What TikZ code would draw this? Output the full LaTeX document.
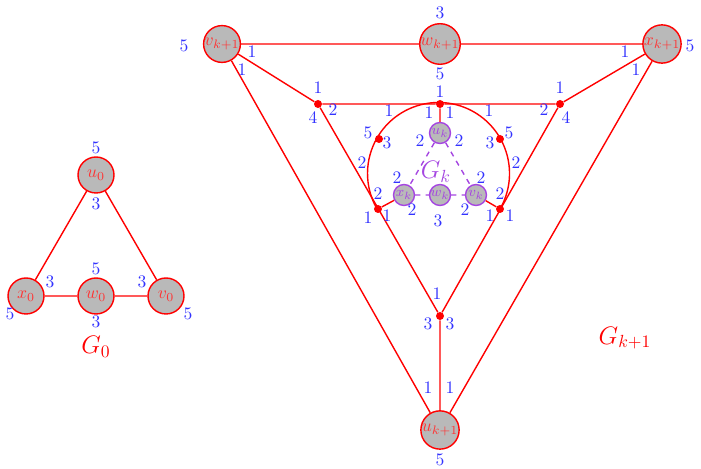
\documentclass[tikz,border=0pt]{standalone}
\usepackage{tikz}
\definecolor{gkpurple}{RGB}{165,70,225}
\begin{document}
\begin{tikzpicture}[x=0.02cm, y=-0.02cm]
	\tikzstyle{vtx} = [circle,draw=red,thick,fill=gray!55,minimum size=0.72cm,inner sep=0pt,text=red!80,font=\normalsize]
	\tikzstyle{svtx} = [circle,draw=gkpurple,thick,fill=gray!55,minimum size=0.42cm,inner sep=0pt,text=gkpurple,font=\footnotesize]
	\tikzstyle{dot} = [circle,fill=red,inner sep=0pt,minimum size=0.16cm]
	\tikzstyle{lab} = [text=blue!80,font=\normalsize,inner sep=0pt]
	\useasboundingbox (0,0) rectangle (701,469);
	% G_0
	\node[vtx](u0)at(96,175){$u_0$};
	\node[vtx](x0)at(26,296){$x_0$};
	\node[vtx](w0)at(96,296){$w_0$};
	\node[vtx](v0)at(166,296){$v_0$};
	\draw[red,thick] (u0) -- (x0) -- (w0) -- (v0) -- (u0);
	\node[text=red,font=\Large](g0)at(96,347){$G_0$};
	% G_{k+1}
	\node[vtx](vk1)at(222,44){$v_{k+1}$};
	\node[vtx](wk1)at(440,44){$w_{k+1}$};
	\node[vtx](xk1)at(662,44){$x_{k+1}$};
	\node[vtx](uk1)at(440,430){$u_{k+1}$};
	\node[dot](a)at(318,104){};
	\node[dot](b)at(440,104){};
	\node[dot](c)at(560,104){};
	\node[dot](d)at(440,316){};
	\node[dot](e)at(378,209){};
	\node[dot](f)at(500,209){};
	\node[dot](p)at(379,139){};
	\node[dot](q)at(500,139){};
	\node[svtx](uk)at(440,133){$u_k$};
	\node[svtx](xk)at(404,195){$x_k$};
	\node[svtx](wk)at(440,195){$w_k$};
	\node[svtx](vk)at(476,195){$v_k$};
	\draw[red,thick] (vk1) -- (wk1) -- (xk1)
	(vk1) -- (a) (vk1) -- (uk1) (xk1) -- (c) (xk1) -- (uk1)
	(a) -- (b) -- (c) (a) -- (d) -- (c) (d) -- (uk1)
	(b) -- (uk) (e) -- (xk) (f) -- (vk);
	\draw[red,thick] (f.center) arc[start angle=30,end angle=-209,radius=71];
	\draw[gkpurple,thick,dashed] (uk) -- (xk) (uk) -- (vk) (xk) -- (wk) -- (vk);
	\node[text=gkpurple,font=\Large](gk)at(436,172){$G_k$};
	\node[text=red,font=\Large](gk1)at(625,338){$G_{k+1}$};
	% port numbers
	\foreach \x/\y/\t [count=\i] in {96/148/5,96/204/3,50/282/3,10/314/5,96/269/5,96/322/3,142/282/3,188/314/5,
		184/46/5,252/52/1,242/70/1,440/13/3,440/74/5,625/52/1,636/70/1,690/46/5,428/388/1,450/388/1,440/460/5,
		318/88/1,313/118/4,333/110/2,440/92/1,429/113/1,450/113/1,389/111/1,489/111/1,560/88/1,544/110/2,566/118/4,
		368/133/5,387/143/3,362/163/2,378/194/2,368/218/1,387/216/1,490/143/3,509/133/5,516/163/2,
		500/194/2,490/216/1,510/216/1,420/141/2,459/141/2,397/178/2,412/210/2,481/178/2,465/210/2,438/221/3,
		437/294/1,428/324/3,450/324/3}
		\node[lab](l\i)at(\x,\y){\t};
\end{tikzpicture}
\end{document}
